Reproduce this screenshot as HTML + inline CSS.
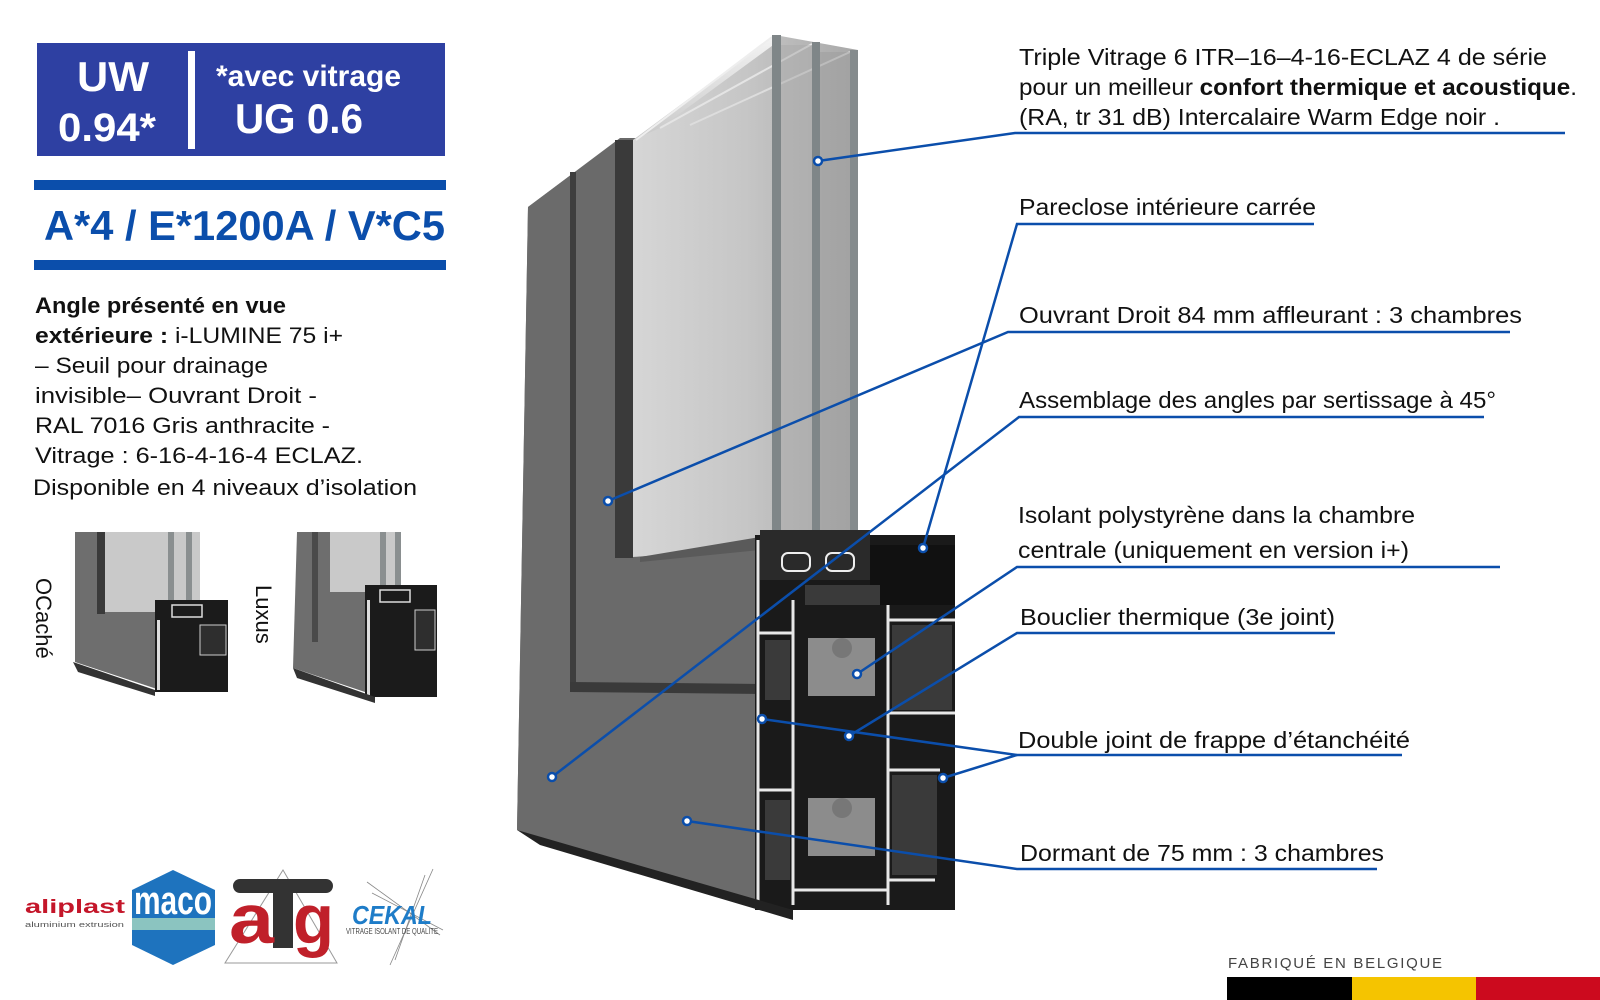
<!DOCTYPE html>
<html><head><meta charset="utf-8"><style>
html,body{margin:0;padding:0;background:#fff;}
svg{display:block;}
text{font-family:"Liberation Sans",sans-serif;}
</style></head><body>
<svg width="1600" height="1000" viewBox="0 0 1600 1000" xmlns="http://www.w3.org/2000/svg">
<defs>
<linearGradient id="gl" x1="0" x2="1" y1="0" y2="0">
<stop offset="0" stop-color="#d6d6d6"/><stop offset="0.5" stop-color="#c6c6c6"/><stop offset="1" stop-color="#a8a8a8"/>
</linearGradient>
<linearGradient id="gl2" x1="0" x2="0" y1="0" y2="1">
<stop offset="0" stop-color="#f4f4f4"/><stop offset="1" stop-color="#c8c8c8"/>
</linearGradient>
</defs>

<!-- LEFT BLUE BOX -->
<rect x="37" y="43" width="408" height="113" fill="#2e40a2"/>
<rect x="188" y="51" width="7" height="98" fill="#fff"/>
<text x="113" y="91" font-size="42" font-weight="bold" fill="#fff" text-anchor="middle" textLength="72" lengthAdjust="spacingAndGlyphs">UW</text>
<text x="58" y="141" font-size="40" font-weight="bold" fill="#fff" textLength="98" lengthAdjust="spacingAndGlyphs">0.94*</text>
<text x="216" y="86" font-size="30" font-weight="bold" fill="#fff" textLength="185" lengthAdjust="spacingAndGlyphs">*avec vitrage</text>
<text x="235" y="133" font-size="42" font-weight="bold" fill="#fff" textLength="128" lengthAdjust="spacingAndGlyphs">UG 0.6</text>

<rect x="34" y="180" width="412" height="10" fill="#0b4eab"/>
<text x="44" y="240" font-size="42" font-weight="bold" fill="#0b4eab" textLength="401" lengthAdjust="spacingAndGlyphs">A*4 / E*1200A / V*C5</text>
<rect x="34" y="260" width="412" height="10" fill="#0b4eab"/>

<g font-size="22" fill="#111">
<text x="35" y="313" font-weight="bold" textLength="251" lengthAdjust="spacingAndGlyphs">Angle présenté en vue</text>
<text x="35" y="343" textLength="308" lengthAdjust="spacingAndGlyphs"><tspan font-weight="bold">extérieure :</tspan> i-LUMINE 75 i+</text>
<text x="35" y="373" textLength="233" lengthAdjust="spacingAndGlyphs">– Seuil pour drainage</text>
<text x="35" y="403" textLength="282" lengthAdjust="spacingAndGlyphs">invisible– Ouvrant Droit -</text>
<text x="35" y="433" textLength="295" lengthAdjust="spacingAndGlyphs">RAL 7016 Gris anthracite -</text>
<text x="35" y="463" textLength="328" lengthAdjust="spacingAndGlyphs">Vitrage : 6-16-4-16-4 ECLAZ.</text>
<text x="33" y="495" textLength="384" lengthAdjust="spacingAndGlyphs">Disponible en 4 niveaux d’isolation</text>
</g>

<!-- THUMBNAIL 1 -->
<g>
<polygon points="75,532 160,532 160,690 75,662" fill="#6e6e6e"/>
<rect x="97" y="532" width="8" height="82" fill="#3a3a3a"/>
<rect x="105" y="532" width="95" height="80" fill="#c9c9c9"/>
<rect x="168" y="532" width="6" height="80" fill="#8a8f90"/>
<rect x="186" y="532" width="6" height="80" fill="#8a8f90"/>
<rect x="155" y="600" width="73" height="92" fill="#1b1b1b"/>
<rect x="172" y="605" width="30" height="12" fill="none" stroke="#ddd" stroke-width="1.5"/>
<rect x="157" y="620" width="3" height="70" fill="#ddd"/>
<rect x="200" y="625" width="26" height="30" fill="#2e2e2e" stroke="#ccc"/>
<polygon points="73,662 155,690 155,696 78,672" fill="#333"/>
</g>
<text transform="translate(36,578) rotate(90)" font-size="22" fill="#111">OCaché</text>

<g>
<polygon points="297,532 380,532 380,697 293,668" fill="#6e6e6e"/>
<rect x="312" y="532" width="6" height="110" fill="#4a4a4a"/>
<rect x="330" y="532" width="70" height="60" fill="#c9c9c9"/>
<rect x="380" y="532" width="6" height="60" fill="#8a8f90"/>
<rect x="395" y="532" width="6" height="60" fill="#8a8f90"/>
<rect x="365" y="585" width="72" height="112" fill="#1b1b1b"/>
<rect x="380" y="590" width="30" height="12" fill="none" stroke="#ddd" stroke-width="1.5"/>
<rect x="367" y="600" width="3" height="95" fill="#ddd"/>
<rect x="415" y="610" width="20" height="40" fill="#2e2e2e" stroke="#ccc"/>
<polygon points="293,668 375,697 375,703 297,678" fill="#333"/>
</g>
<text transform="translate(256,585) rotate(90)" font-size="22" fill="#111">Luxus</text>

<!-- LOGOS -->
<text x="25" y="913" font-size="19" font-weight="bold" fill="#c4162a" textLength="100" lengthAdjust="spacingAndGlyphs">aliplast</text>
<text x="25" y="927" font-size="7" fill="#555" textLength="99" lengthAdjust="spacingAndGlyphs">aluminium extrusion</text>

<polygon points="173,870 215,890 215,945 173,965 132,945 132,890" fill="#1e73be"/>
<rect x="132" y="918" width="83" height="12" fill="#8bc4c0"/>
<text x="134" y="914" font-size="40" font-weight="bold" fill="#fff" textLength="78" lengthAdjust="spacingAndGlyphs">maco</text>

<polygon points="283,870 337,963 225,963" fill="none" stroke="#999" stroke-width="1"/>
<rect x="233" y="879" width="100" height="14" rx="7" fill="#333"/>
<rect x="273" y="885" width="20" height="63" fill="#333"/>
<text x="229" y="943" font-size="70" font-weight="bold" fill="#c0202a" textLength="45" lengthAdjust="spacingAndGlyphs">a</text>
<text x="293" y="943" font-size="70" font-weight="bold" fill="#c0202a" textLength="41" lengthAdjust="spacingAndGlyphs">g</text>

<g stroke="#888" stroke-width="0.8">
<line x1="367" y1="882" x2="440" y2="935"/><line x1="372" y1="893" x2="443" y2="930"/>
<line x1="433" y1="869" x2="390" y2="965"/><line x1="425" y1="875" x2="395" y2="960"/>
</g>
<text x="352" y="924" font-size="26" font-weight="bold" font-style="italic" fill="#1e7cc8" textLength="80" lengthAdjust="spacingAndGlyphs">CEKAL</text>
<text x="346" y="934" font-size="8" fill="#444" textLength="92" lengthAdjust="spacingAndGlyphs">VITRAGE ISOLANT DE QUALITE</text>

<!-- WINDOW -->
<!-- frame face -->
<polygon points="528,207 620,138 640,138 640,550 760,535 760,905 517,830" fill="#6a6a6a"/>
<polygon points="528,207 575,172 575,690 765,690 765,910 517,830" fill="#6b6b6b"/>
<rect x="570" y="172" width="6" height="518" fill="#3e3e3e"/>
<rect x="615" y="140" width="18" height="418" fill="#3a3a3a"/>
<polygon points="570,682 765,684 765,694 570,692" fill="#3a3a3a"/>
<!-- glass -->
<polygon points="633,140 775,35 858,50 858,540 633,557" fill="url(#gl)"/>
<polygon points="633,140 775,35 780,40 660,128 633,140" fill="url(#gl2)"/>
<line x1="636" y1="140" x2="772" y2="37" stroke="#eee" stroke-width="2"/>
<line x1="660" y1="128" x2="812" y2="44" stroke="#e4e4e4" stroke-width="2"/>
<line x1="690" y1="125" x2="850" y2="52" stroke="#ddd" stroke-width="2"/>
<rect x="772" y="35" width="9" height="505" fill="#7f8688"/>
<rect x="812" y="42" width="8" height="498" fill="#7f8688"/>
<rect x="850" y="50" width="8" height="490" fill="#858b8d"/>
<rect x="781" y="45" width="31" height="495" fill="#a9a9a9" opacity="0.5"/>
<rect x="820" y="52" width="30" height="488" fill="#9c9c9c" opacity="0.5"/>
<polygon points="640,557 760,537 760,550 640,562" fill="#5a5a5a"/>
<!-- cross section -->
<rect x="755" y="535" width="200" height="375" fill="#1a1a1a"/>
<rect x="760" y="530" width="110" height="50" fill="#2a2a2a"/>
<rect x="782" y="553" width="28" height="18" rx="6" fill="none" stroke="#eee" stroke-width="2"/>
<rect x="826" y="553" width="28" height="18" rx="6" fill="none" stroke="#eee" stroke-width="2"/>
<rect x="870" y="545" width="85" height="60" fill="#111"/>
<rect x="805" y="585" width="75" height="20" fill="#3a3a3a"/>
<rect x="808" y="638" width="67" height="58" fill="#8c8c8c"/>
<rect x="808" y="798" width="67" height="58" fill="#8c8c8c"/>
<circle cx="842" cy="648" r="10" fill="#777"/>
<circle cx="842" cy="808" r="10" fill="#777"/>
<g fill="none" stroke="#e8e8e8" stroke-width="3">
<line x1="758" y1="540" x2="758" y2="905"/>
<line x1="793" y1="600" x2="793" y2="905"/>
<line x1="888" y1="605" x2="888" y2="905"/>
<line x1="758" y1="633" x2="793" y2="633"/>
<line x1="758" y1="790" x2="793" y2="790"/>
<line x1="888" y1="620" x2="955" y2="620"/>
<line x1="888" y1="713" x2="955" y2="713"/>
<line x1="888" y1="770" x2="940" y2="770"/>
<line x1="888" y1="880" x2="935" y2="880"/>
<line x1="793" y1="890" x2="888" y2="890"/>
</g>
<rect x="892" y="625" width="60" height="85" fill="#3a3a3a"/>
<rect x="892" y="775" width="45" height="100" fill="#3a3a3a"/>
<rect x="765" y="640" width="25" height="60" fill="#3a3a3a"/>
<rect x="765" y="800" width="25" height="80" fill="#3a3a3a"/>
<polygon points="517,830 793,910 793,920 540,845" fill="#222"/>

<!-- CONNECTORS -->
<g stroke="#0b4eab" stroke-width="2.5" fill="none">
<polyline points="818,161 1015,133 1565,133"/>
<polyline points="923,548 1017,224 1314,224"/>
<polyline points="608,501 1008,332 1510,332"/>
<polyline points="552,777 1019,417 1484,417"/>
<polyline points="857,674 1017,567 1500,567"/>
<polyline points="849,736 1017,633 1335,633"/>
<polyline points="762,719 1017,755 1402,755"/>
<polyline points="943,778 1017,755"/>
<polyline points="687,821 1017,869 1377,869"/>
</g>
<g stroke="#0b4eab" stroke-width="2.5" fill="#fff">
<circle cx="818" cy="161" r="4"/><circle cx="923" cy="548" r="4"/><circle cx="608" cy="501" r="4"/>
<circle cx="552" cy="777" r="4"/><circle cx="857" cy="674" r="4"/><circle cx="849" cy="736" r="4"/>
<circle cx="762" cy="719" r="4"/><circle cx="943" cy="778" r="4"/><circle cx="687" cy="821" r="4"/>
</g>

<!-- RIGHT LABELS -->
<g font-size="23" fill="#111">
<text x="1019" y="65" textLength="528" lengthAdjust="spacingAndGlyphs">Triple Vitrage 6 ITR–16–4-16-ECLAZ 4 de série</text>
<text x="1019" y="95" textLength="558" lengthAdjust="spacingAndGlyphs">pour un meilleur <tspan font-weight="bold">confort thermique et acoustique</tspan>.</text>
<text x="1019" y="125" textLength="481" lengthAdjust="spacingAndGlyphs">(RA, tr 31 dB) Intercalaire Warm Edge noir .</text>
<text x="1019" y="215" textLength="297" lengthAdjust="spacingAndGlyphs">Pareclose intérieure carrée</text>
<text x="1019" y="323" textLength="503" lengthAdjust="spacingAndGlyphs">Ouvrant Droit 84 mm affleurant : 3 chambres</text>
<text x="1019" y="408" textLength="477" lengthAdjust="spacingAndGlyphs">Assemblage des angles par sertissage à 45°</text>
<text x="1018" y="523" textLength="397" lengthAdjust="spacingAndGlyphs">Isolant polystyrène dans la chambre</text>
<text x="1018" y="558" textLength="391" lengthAdjust="spacingAndGlyphs">centrale (uniquement en version i+)</text>
<text x="1020" y="625" textLength="315" lengthAdjust="spacingAndGlyphs">Bouclier thermique (3e joint)</text>
<text x="1018" y="748" textLength="392" lengthAdjust="spacingAndGlyphs">Double joint de frappe d’étanchéité</text>
<text x="1020" y="861" textLength="364" lengthAdjust="spacingAndGlyphs">Dormant de 75 mm : 3 chambres</text>
</g>

<text x="1228" y="968" font-size="15" fill="#444" textLength="214" lengthAdjust="spacing">FABRIQUÉ EN BELGIQUE</text>
<rect x="1227" y="977" width="125" height="23" fill="#000"/>
<rect x="1352" y="977" width="124" height="23" fill="#f5c400"/>
<rect x="1476" y="977" width="124" height="23" fill="#cc0a1e"/>
</svg>
</body></html>
